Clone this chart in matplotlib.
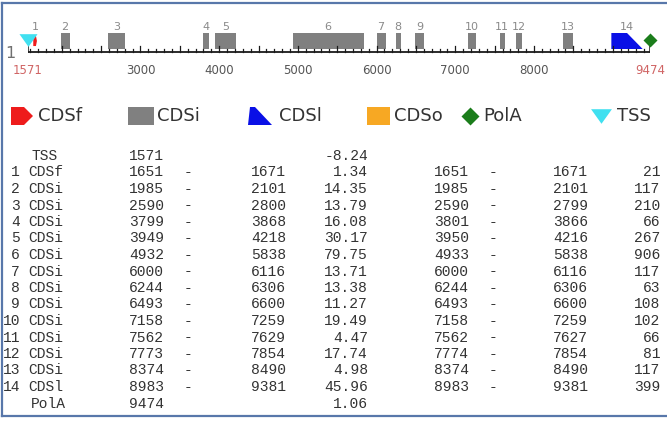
import matplotlib
matplotlib.use('Agg')
import matplotlib.pyplot as plt
from matplotlib.patches import Rectangle, Polygon
import numpy as np

# gene model (bp)
seq_start = 1571
seq_end = 9474
tss_pos = 1571
tss_score = -8.24
polya_pos = 9474
polya_score = 1.06

exon_type = ['CDSf', 'CDSi', 'CDSi', 'CDSi', 'CDSi', 'CDSi', 'CDSi', 'CDSi',
             'CDSi', 'CDSi', 'CDSi', 'CDSi', 'CDSi', 'CDSl']
exon_start = [1651, 1985, 2590, 3799, 3949, 4932, 6000, 6244, 6493, 7158, 7562, 7773, 8374, 8983]
exon_end = [1671, 2101, 2800, 3868, 4218, 5838, 6116, 6306, 6600, 7259, 7629, 7854, 8490, 9381]
exon_score = [1.34, 14.35, 13.79, 16.08, 30.17, 79.75, 13.71, 13.38, 11.27, 19.49, 4.47, 17.74, 4.98, 45.96]
orf_start = [1651, 1985, 2590, 3801, 3950, 4933, 6000, 6244, 6493, 7158, 7562, 7774, 8374, 8983]
orf_end = [1671, 2101, 2799, 3866, 4216, 5838, 6116, 6306, 6600, 7259, 7627, 7854, 8490, 9381]
orf_len = [21, 117, 210, 66, 267, 906, 117, 63, 108, 102, 66, 81, 117, 399]

ruler_labels = [3000, 4000, 5000, 6000, 7000, 8000]

col = {'CDSf': '#ee1c1c', 'CDSi': '#808080', 'CDSl': '#0a10e6', 'CDSo': '#f7a823',
       'PolA': '#1b7d1b', 'TSS': '#40e0f0'}

fig = plt.figure(figsize=(6.67, 4.21), dpi=100)
bg = fig.add_axes([0, 0, 1, 1])
bg.set_xlim(0, 667)
bg.set_ylim(421, 0)
bg.axis('off')

# frame
fc = '#5877aa'
bg.plot([2, 667], [3, 3], color=fc, lw=1.6)
bg.plot([2, 2], [3, 416], color=fc, lw=1.6)
bg.plot([2, 667], [416, 416], color=fc, lw=1.6)

# track axes: x in bp, y in pixel rows
trk = fig.add_axes([28 / 667, 0, 622 / 667, 1])
trk.set_xlim(seq_start, seq_end)
trk.set_ylim(421, 0)
trk.axis('off')

y_top, y_bot, y_axis = 33, 49, 52

for i, (t, s, e) in enumerate(zip(exon_type, exon_start, exon_end)):
    if t == 'CDSi':
        trk.add_patch(Rectangle((s, y_top), e - s, y_bot - y_top, color=col[t], lw=0))
    elif t == 'CDSl':
        trk.add_patch(Polygon([(s, y_bot), (s, y_top), (s + 0.5 * (e - s), y_top), (e, y_bot)],
                              closed=True, color=col[t], lw=0))
    elif t == 'CDSf':
        m = s + 0.5 * (e - s)
        trk.add_patch(Polygon([(s, 37), (m, 37), (e, 41), (m, 45), (s, 45)],
                              closed=True, fc=col[t], ec=col[t], lw=1.5))
    trk.text((s + e) / 2, 27, str(i + 1), ha='center', va='center', fontsize=8, color='#8a8a8a')

# ruler
trk.plot([seq_start, seq_end], [y_axis, y_axis], color='#1a1a1a', lw=1.3, solid_capstyle='butt')
for v in np.arange(1600, seq_end, 100):
    h = 6 if v % 500 == 0 else 3
    trk.plot([v, v], [y_axis, y_axis - h], color='#1a1a1a', lw=0.9)
for v in [seq_start, seq_end]:
    trk.plot([v, v], [y_axis, y_axis - 9], color='#1a1a1a', lw=1.1)
for v in ruler_labels:
    trk.text(v, 70, str(v), ha='center', va='center', fontsize=8.5, color='#555555')
trk.text(seq_start, 71, str(seq_start), ha='center', va='center', fontsize=8.5, color='#d06464')
trk.text(seq_end, 71, str(seq_end), ha='center', va='center', fontsize=8.5, color='#d06464',
         clip_on=False)
bg.text(10, 53, '1', ha='center', va='center', fontsize=11.5, color='#707070')

# TSS and PolA
tri = [(-1, 0.7), (1, 0.7), (0, -0.7)]
trk.plot([tss_pos], [40], marker=tri, ms=13, color=col['TSS'], mec='none', clip_on=False)
trk.plot([polya_pos], [40], marker='D', ms=7, color=col['PolA'], mec='none', clip_on=False)

# legend
ly = 116
bg.add_patch(Polygon([(11, ly - 9), (24, ly - 9), (33, ly), (24, ly + 9), (11, ly + 9)],
                     closed=True, color=col['CDSf'], lw=0))
bg.add_patch(Rectangle((128, ly - 9), 26, 18, color=col['CDSi'], lw=0))
bg.add_patch(Polygon([(248, ly + 9), (250, ly - 9), (255, ly - 9), (272, ly + 9)],
                     closed=True, color=col['CDSl'], lw=0))
bg.add_patch(Rectangle((367, ly - 9), 23, 18, color=col['CDSo'], lw=0))
bg.plot([470], [ly], marker='D', ms=9, color=col['PolA'], mec='none')
bg.plot([601], [ly], marker=tri, ms=15, color=col['TSS'], mec='none')
for x, lab in zip([38, 157, 279, 394, 483, 617], ['CDSf', 'CDSi', 'CDSl', 'CDSo', 'PolA', 'TSS']):
    bg.text(x, ly, lab, ha='left', va='center', fontsize=13, color='#333333')

# table
mono = dict(family='Liberation Mono', fontsize=10.5, color='#333333', va='center')
y0, dy = 156, 16.5
bg.text(31, y0, 'TSS', ha='left', **mono)
bg.text(129, y0, str(tss_pos), ha='left', **mono)
bg.text(368, y0, '%.2f' % tss_score, ha='right', **mono)
for i in range(len(exon_type)):
    y = y0 + (i + 1) * dy
    bg.text(20, y, str(i + 1), ha='right', **mono)
    bg.text(28, y, exon_type[i], ha='left', **mono)
    bg.text(129, y, str(exon_start[i]), ha='left', **mono)
    bg.text(184, y, '-', ha='left', **mono)
    bg.text(286, y, str(exon_end[i]), ha='right', **mono)
    bg.text(368, y, '%.2f' % exon_score[i], ha='right', **mono)
    bg.text(434, y, str(orf_start[i]), ha='left', **mono)
    bg.text(489, y, '-', ha='left', **mono)
    bg.text(588, y, str(orf_end[i]), ha='right', **mono)
    bg.text(660, y, str(orf_len[i]), ha='right', **mono)
y = y0 + (len(exon_type) + 1) * dy
bg.text(31, y, 'PolA', ha='left', **mono)
bg.text(129, y, str(polya_pos), ha='left', **mono)
bg.text(368, y, '%.2f' % polya_score, ha='right', **mono)

fig.savefig('out.png', dpi=100)
